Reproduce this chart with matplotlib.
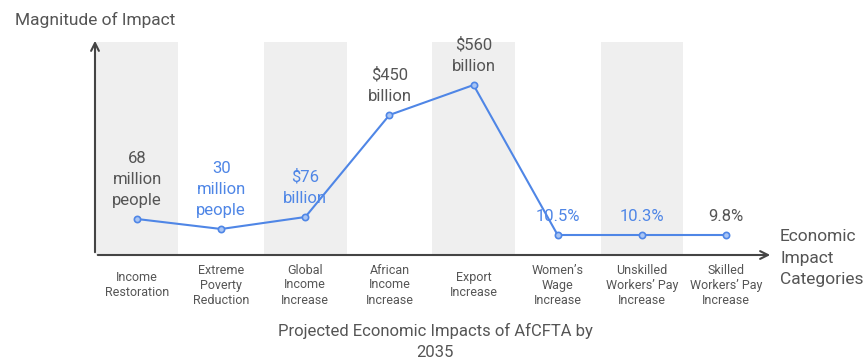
import matplotlib.pyplot as plt
import matplotlib.transforms as mtransforms

categories = ["Income\nRestoration", "Extreme\nPoverty\nReduction", "Global\nIncome\nIncrease",
              "African\nIncome\nIncrease", "Export\nIncrease", "Women’s\nWage\nIncrease",
              "Unskilled\nWorkers’ Pay\nIncrease", "Skilled\nWorkers’ Pay\nIncrease"]
# relative magnitude as drawn in the chart (no numeric scale shown)
magnitude = [36, 26, 38, 140, 170, 20, 20, 20]
value_labels = ["68\nmillion\npeople", "30\nmillion\npeople", "$76\nbillion", "$450\nbillion",
                "$560\nbillion", "10.5%", "10.3%", "9.8%"]
label_blue = [False, True, True, False, False, True, True, False]

plt.rcParams['font.family'] = ['Roboto', 'DejaVu Sans']

W, H = 866, 363
fig = plt.figure(figsize=(W / 100, H / 100), dpi=100)
ax = fig.add_axes([95 / W, (H - 255) / H, (773 - 95) / W, (255 - 38) / H])
ax.set_xlim(-0.5, 7.56)
ax.set_ylim(0, 217)
ax.axis("off")

gray = "#555555"
blue = "#4f86e6"

for i in range(0, 8, 2):
    ax.axvspan(i - 0.49, i + 0.49, ymin=0, ymax=(255 - 42) / 217, color="#efefef", lw=0, zorder=0)

x = list(range(len(categories)))
ax.plot(x, magnitude, color=blue, lw=1.5, marker="o", ms=4.5, mfc="#a9c5f4", mec=blue, mew=1.2, zorder=3)

for i, (v, lab) in enumerate(zip(magnitude, value_labels)):
    ax.annotate(lab, (i, v), xytext=(0, 8), textcoords="offset points", ha="center", va="bottom",
                fontsize=12, color=blue if label_blue[i] else gray, linespacing=1.5, zorder=4)

# axes arrows
ax.annotate("", xy=(0, 1), xytext=(0, 0), xycoords="axes fraction",
            arrowprops=dict(arrowstyle="->", color="#444444", lw=1.5, mutation_scale=14))
ax.annotate("", xy=(1, 0), xytext=(0, 0), xycoords="axes fraction",
            arrowprops=dict(arrowstyle="->", color="#444444", lw=1.5, mutation_scale=14))

trans = mtransforms.blended_transform_factory(ax.transData, fig.transFigure)
for i, c in enumerate(categories):
    ax.text(i, 1 - 285 / H, c, transform=trans, ha="center", va="center",
            fontsize=9, color=gray, linespacing=1.2)

fig.text(15 / W, 1 - 20 / H, "Magnitude of Impact", ha="left", va="center", fontsize=12.5, color=gray)
fig.text(780 / W, 1 - 258 / H, "Economic\nImpact\nCategories", ha="left", va="center",
         fontsize=12.5, color=gray, linespacing=1.55)
fig.text(435 / W, 1 - 341 / H, "Projected Economic Impacts of AfCFTA by\n2035", ha="center", va="center",
         fontsize=12, color=gray, linespacing=1.5)

fig.savefig("out.png", dpi=100)
